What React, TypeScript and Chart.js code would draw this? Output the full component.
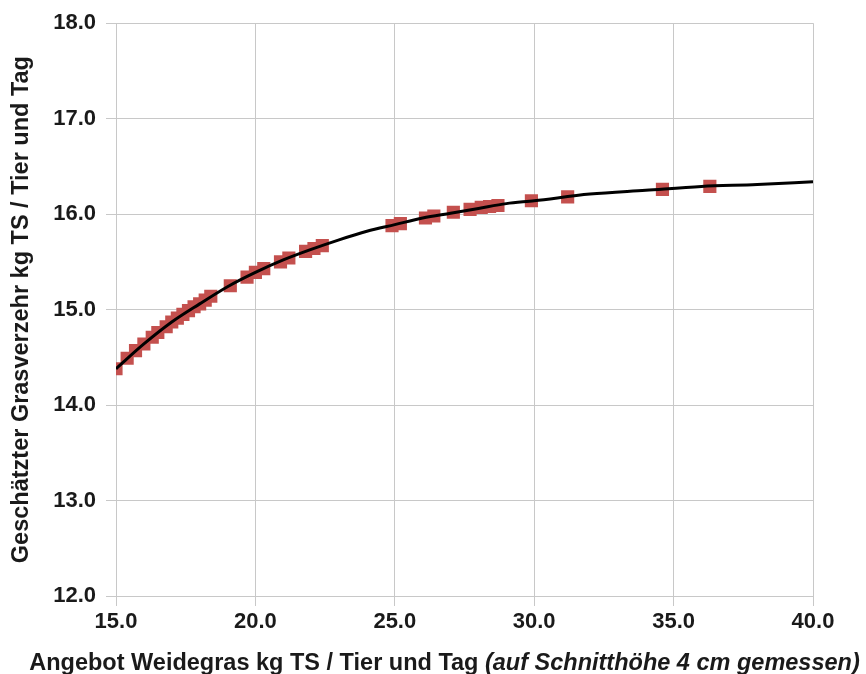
import { useEffect, useRef } from 'react';
import { Chart, registerables } from 'chart.js';

Chart.register(...registerables);

// Observed grazing points: pasture offer (x) and estimated intake (y), kg DM per animal and day
const offerKg = [
  15.0, 15.4, 15.7, 16.0, 16.3, 16.5, 16.8, 17.0, 17.2, 17.4, 17.6, 17.8, 18.0, 18.2, 18.4,
  19.1, 19.7, 20.0, 20.3, 20.9, 21.2, 21.8, 22.1, 22.4,
  24.9, 25.2, 26.1, 26.4, 27.1, 27.7, 28.1, 28.4, 28.7, 29.9, 31.2, 34.6, 36.3,
];
const intakeKg = [
  14.38, 14.49, 14.57, 14.64, 14.71, 14.76, 14.82, 14.87, 14.91, 14.95, 14.99, 15.03, 15.06, 15.10, 15.14,
  15.25, 15.34, 15.39, 15.43, 15.50, 15.54, 15.61, 15.64, 15.67,
  15.88, 15.90, 15.96, 15.98, 16.02, 16.05, 16.07, 16.08, 16.09, 16.14, 16.18, 16.26, 16.29,
];

// Fitted response curve
const curveOffer = [15, 16, 17, 18, 19, 20, 21, 22, 23, 24, 25, 26, 27, 28, 29, 30, 32, 34, 36, 38, 40];
const curveIntake = [
  14.38, 14.64, 14.87, 15.06, 15.24, 15.39, 15.52, 15.63, 15.73, 15.82, 15.89,
  15.96, 16.01, 16.06, 16.11, 16.14, 16.21, 16.25, 16.29, 16.31, 16.34,
];

const xRange = [15, 40];
const yRange = [12, 18];
const xStep = 5;
const yStep = 1;

const yTitle = 'Geschätzter Grasverzehr kg TS / Tier und Tag';
const xTitleMain = 'Angebot Weidegras kg TS / Tier und Tag ';
const xTitleNote = '(auf Schnitthöhe 4 cm gemessen)';

const FONT = "'Liberation Sans', Arial, sans-serif";
const TEXT = '#1a1a1a';
const GRID = '#c8c8c8';
const MARKER = '#C4504E';

// Two-style axis title (regular bold + italic bold) drawn under the x axis
const xTitlePlugin = {
  id: 'xTitleMixed',
  afterDraw(chart: any) {
    const ctx = chart.ctx as CanvasRenderingContext2D;
    ctx.save();
    const main = `bold 23.5px ${FONT}`;
    const note = `italic bold 23.5px ${FONT}`;
    ctx.font = main;
    const w1 = ctx.measureText(xTitleMain).width;
    ctx.font = note;
    const w2 = ctx.measureText(xTitleNote).width;
    const x0 = 444.5 - (w1 + w2) / 2;
    ctx.fillStyle = TEXT;
    ctx.textAlign = 'left';
    ctx.textBaseline = 'alphabetic';
    ctx.font = main;
    ctx.fillText(xTitleMain, x0, 670);
    ctx.font = note;
    ctx.fillText(xTitleNote, x0 + w1, 670);
    ctx.restore();
  },
};

export default function App() {
  const canvasRef = useRef<HTMLCanvasElement | null>(null);

  useEffect(() => {
    if (!canvasRef.current) return;
    const points = offerKg.map((x, i) => ({ x, y: intakeKg[i] }));
    const curve = curveOffer.map((x, i) => ({ x, y: curveIntake[i] }));

    const chart = new Chart(canvasRef.current, {
      type: 'scatter',
      data: {
        datasets: [
          {
            label: 'Kurve',
            data: curve,
            showLine: true,
            borderColor: '#000000',
            borderWidth: 3,
            pointRadius: 0,
            cubicInterpolationMode: 'monotone',
            order: 0,
          },
          {
            label: 'Messwerte',
            data: points,
            pointStyle: 'rect',
            pointRadius: 9.3,
            pointBackgroundColor: MARKER,
            pointBorderColor: MARKER,
            pointBorderWidth: 0,
            showLine: false,
            order: 1,
          },
        ],
      },
      options: {
        responsive: false,
        animation: false,
        layout: { padding: { top: 21, right: 53, bottom: 0, left: 0 } },
        plugins: {
          legend: { display: false },
          tooltip: { enabled: false },
        },
        scales: {
          x: {
            type: 'linear',
            min: xRange[0],
            max: xRange[1],
            afterFit: (scale: any) => {
              scale.height = 78;
            },
            ticks: {
              stepSize: xStep,
              autoSkip: false,
              maxRotation: 0,
              padding: 3,
              color: TEXT,
              font: { family: FONT, size: 22, weight: 'bold' },
              callback: (v: any) => Number(v).toFixed(1),
            },
            grid: { color: GRID, lineWidth: 1, tickLength: 10 },
            border: { color: GRID, width: 1 },
          },
          y: {
            type: 'linear',
            min: yRange[0],
            max: yRange[1],
            afterFit: (scale: any) => {
              scale.width = 116;
            },
            ticks: {
              stepSize: yStep,
              padding: 10,
              color: TEXT,
              font: { family: FONT, size: 22, weight: 'bold' },
              callback: (v: any) => Number(v).toFixed(1),
            },
            grid: { color: GRID, lineWidth: 1, tickLength: 10 },
            border: { color: GRID, width: 1 },
            title: {
              display: true,
              text: yTitle,
              color: TEXT,
              padding: { top: 7, bottom: 0 },
              font: { family: FONT, size: 23.5, weight: 'bold' },
            },
          },
        },
      },
      plugins: [xTitlePlugin],
    });

    return () => chart.destroy();
  }, []);

  return (
    <div style={{ position: 'absolute', left: 0, top: 0, width: 866, height: 674, background: '#ffffff' }}>
      <canvas ref={canvasRef} width={866} height={674} />
    </div>
  );
}
